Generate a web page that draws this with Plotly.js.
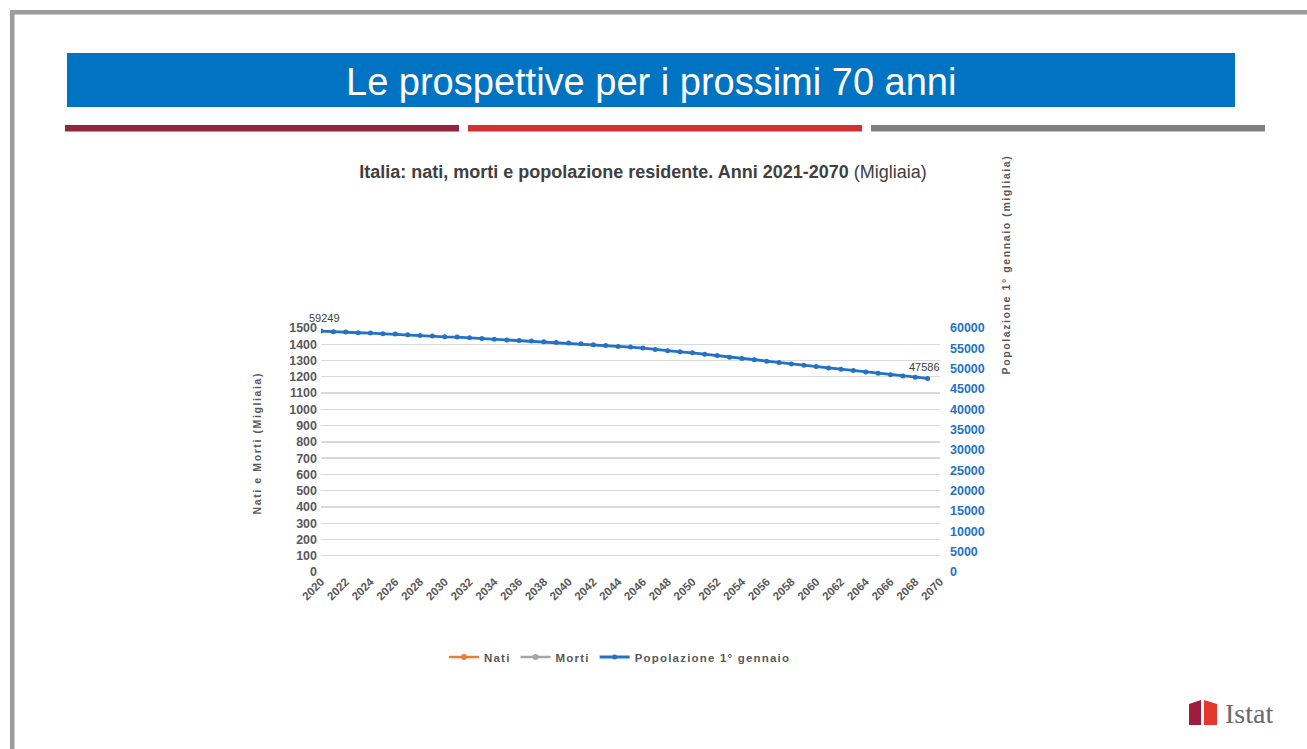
<!DOCTYPE html>
<html><head><meta charset="utf-8">
<script src="https://cdn.plot.ly/plotly-3.0.1.min.js"></script>
<style>html,body{margin:0;padding:0;background:#fff;}#chart{width:1307px;height:749px;}
.legendtext{letter-spacing:1.2px;}
</style>
</head><body><div id="chart"></div>
<script>
// ---- data ----
const years = [2020,2021,2022,2023,2024,2025,2026,2027,2028,2029,
               2030,2031,2032,2033,2034,2035,2036,2037,2038,2039,
               2040,2041,2042,2043,2044,2045,2046,2047,2048,2049,
               2050,2051,2052,2053,2054,2055,2056,2057,2058,2059,
               2060,2061,2062,2063,2064,2065,2066,2067,2068,2069];
const popolazione = [59249,59076,59002,58829,58755,58582,58508,58335,58163,58015,
                     57842,57768,57595,57422,57249,57077,56930,56780,56607,56434,
                     56286,56113,55866,55694,55447,55299,55052,54706,54384,54137,
                     53890,53570,53225,52829,52484,52163,51842,51496,51175,50854,
                     50509,50188,49866,49521,49200,48879,48533,48212,47891,47586];
const natiX = [2020];
const nati = [null];
const mortiX = [2020];
const morti = [null];
const seriesNames = ['Nati','Morti','Popolazione 1° gennaio'];
const xTickVals = [2020,2022,2024,2026,2028,2030,2032,2034,2036,2038,2040,2042,2044,2046,2048,2050,2052,2054,2056,2058,2060,2062,2064,2066,2068,2070];
const bannerTitle = 'Le prospettive per i prossimi 70 anni';
const chartTitle = '<b>Italia: nati, morti e popolazione residente. Anni 2021-2070</b> (Migliaia)';
const leftAxisTitle = 'Nati e Morti (Migliaia)';
const rightAxisTitle = 'Popolazione 1° gennaio (migliaia)';

// ---- layout helpers (pixel -> paper) ----
const W = 1307, H = 749;
const L = 321, R = 940, T = 328, B = 572;
const px = x => (x - L) / (R - L);
const py = y => (B - y) / (B - T);

const gray = '#595959';
const blue = '#2372C4';
const tickFont = {family: 'Liberation Sans, Arial, sans-serif', size: 12.5, color: gray, weight: 'bold'};

const traces = [
  {x: natiX, y: nati, name: seriesNames[0], type: 'scatter', mode: 'lines+markers',
   line: {color: '#ED7D31', width: 2.5}, marker: {color: '#ED7D31', size: 6}, yaxis: 'y'},
  {x: mortiX, y: morti, name: seriesNames[1], type: 'scatter', mode: 'lines+markers',
   line: {color: '#A5A5A5', width: 2.5}, marker: {color: '#A5A5A5', size: 6}, yaxis: 'y'},
  {x: years, y: popolazione, name: seriesNames[2], type: 'scatter', mode: 'lines+markers',
   line: {color: blue, width: 2.8}, marker: {color: blue, size: 5}, yaxis: 'y2'}
];

const shapes = [
  {type:'rect', xref:'paper', yref:'paper', x0:px(10), x1:px(W+5), y0:py(10), y1:py(14.5), fillcolor:'#9c9c9c', line:{width:0}, layer:'below'},
  {type:'rect', xref:'paper', yref:'paper', x0:px(10), x1:px(14.5), y0:py(10), y1:py(H+5), fillcolor:'#9c9c9c', line:{width:0}, layer:'below'},
  {type:'rect', xref:'paper', yref:'paper', x0:px(67), x1:px(1235), y0:py(53), y1:py(107), fillcolor:'#0074C3', line:{width:0}, layer:'below'},
  {type:'rect', xref:'paper', yref:'paper', x0:px(65), x1:px(459), y0:py(125), y1:py(131.5), fillcolor:'#95253D', line:{width:0}, layer:'below'},
  {type:'rect', xref:'paper', yref:'paper', x0:px(468), x1:px(862), y0:py(125), y1:py(131.5), fillcolor:'#D13131', line:{width:0}, layer:'below'},
  {type:'rect', xref:'paper', yref:'paper', x0:px(871), x1:px(1265), y0:py(125), y1:py(131.5), fillcolor:'#808080', line:{width:0}, layer:'below'},
  {type:'path', xref:'paper', yref:'paper',
   path:`M ${px(1189)} ${py(704)} L ${px(1201)} ${py(700)} L ${px(1201)} ${py(725)} L ${px(1189)} ${py(725)} Z`,
   fillcolor:'#9E1C3E', line:{width:0}},
  {type:'path', xref:'paper', yref:'paper',
   path:`M ${px(1204)} ${py(700)} L ${px(1217)} ${py(704)} L ${px(1217)} ${py(725)} L ${px(1204)} ${py(725)} Z`,
   fillcolor:'#E3372D', line:{width:0}}
];

const last = popolazione.length - 1;
const annotations = [
  {xref:'paper', yref:'paper', x:px(651), y:py(82), text:bannerTitle, showarrow:false,
   font:{family:'Liberation Sans Narrow, Arial Narrow, Liberation Sans, sans-serif', size:38, color:'#ffffff'}, xanchor:'center', yanchor:'middle'},
  {xref:'paper', yref:'paper', x:px(257), y:py(443), text:leftAxisTitle, showarrow:false, textangle:-90,
   font:{family:'Liberation Sans, Arial, sans-serif', size:10.5, color:gray, weight:'bold'}, xanchor:'center', yanchor:'middle'},
  {xref:'paper', yref:'paper', x:px(1006), y:py(265), text:rightAxisTitle, showarrow:false, textangle:-90,
   font:{family:'Liberation Sans, Arial, sans-serif', size:10.5, color:gray, weight:'bold'}, xanchor:'center', yanchor:'middle'},
  {xref:'x', yref:'y2', x:years[0], y:popolazione[0], text:String(popolazione[0]), showarrow:false, yshift:13, xshift:3,
   font:{family:'Liberation Sans, Arial, sans-serif', size:11, color:'#404040'}},
  {xref:'x', yref:'y2', x:years[last], y:popolazione[last], text:String(popolazione[last]), showarrow:false, yshift:11, xshift:-3,
   font:{family:'Liberation Sans, Arial, sans-serif', size:11, color:'#404040'}},
  {xref:'paper', yref:'paper', x:px(1249), y:py(713), text:'Istat', showarrow:false,
   font:{family:'Liberation Serif, DejaVu Serif, serif', size:28, color:'#6a6a6a'}, xanchor:'center', yanchor:'middle'}
];

const layout = {
  width: W, height: H,
  margin: {l: L, r: W - R, t: T, b: H - B, pad: 0},
  paper_bgcolor: '#ffffff', plot_bgcolor: '#ffffff',
  title: {text: chartTitle, x: 643 / W, xanchor: 'center', y: 1 - 172 / H, yanchor: 'middle',
          font: {family: 'Liberation Sans Narrow, Arial Narrow, Liberation Sans, sans-serif', size: 18, color: '#404040'}},
  showlegend: true,
  legend: {orientation: 'h', x: px(620), y: py(657), xanchor: 'center', yanchor: 'middle',
           font: {family: 'Liberation Sans, Arial, sans-serif', size: 11.5, color: gray, weight: 'bold'},
           bgcolor: 'rgba(0,0,0,0)', itemwidth: 30, tracegroupgap: 0},
  xaxis: {range: [2020, 2070], tickvals: xTickVals, ticktext: xTickVals.map(String), tickangle: -45,
          showgrid: false, zeroline: false, showline: false, ticks: '',
          tickfont: {family: 'Liberation Sans, Arial, sans-serif', size: 11.5, color: gray, weight: 'bold'}, fixedrange: true},
  yaxis: {range: [0, 1500], dtick: 100, showgrid: true, gridcolor: '#D9D9D9', gridwidth: 1.3,
          zeroline: false, showline: false, ticks: '', tickfont: tickFont, ticklabelstandoff: 3, fixedrange: true},
  yaxis2: {range: [0, 60000], dtick: 5000, tickformat: 'd', overlaying: 'y', side: 'right', showgrid: false,
           zeroline: false, showline: false, ticks: '', ticklabelstandoff: 9,
           tickfont: {family: 'Liberation Sans, Arial, sans-serif', size: 12.5, color: blue, weight: 'bold'}, fixedrange: true},
  shapes: shapes,
  annotations: annotations
};

Plotly.newPlot('chart', traces, layout, {displayModeBar: false, staticPlot: true}).then(gd => {
  // spaced lettering of the two axis titles, as in the reference
  const texts = gd.querySelectorAll('g.annotation');
  [1, 2].forEach(i => {
    const t = texts[i] && texts[i].querySelector('text');
    if (t) t.style.letterSpacing = '1.6px';
  });
});
</script>
</body></html>
